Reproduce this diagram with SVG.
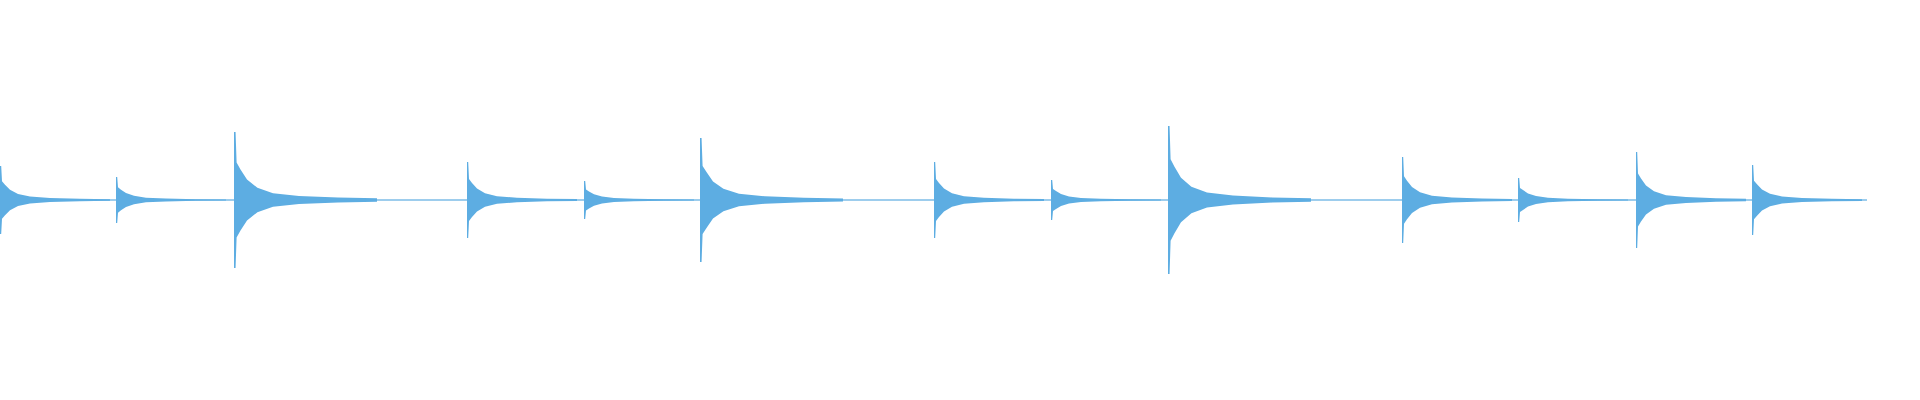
<svg xmlns="http://www.w3.org/2000/svg" width="1920" height="400" viewBox="0 0 1920 400">
<defs>
<style>.w{fill:#5dade2}</style>
<path id="e" d="M0,-1 L1.2,-1 L2,-0.55 L5,-0.45 L10,-0.3 L18,-0.18 L30,-0.1 L50,-0.06 L80,-0.035 L110,-0.025 L110,0.025 L80,0.035 L50,0.06 L30,0.1 L18,0.18 L10,0.3 L5,0.45 L2,0.55 L1.2,1 L0,1 Z"/>
</defs>
<rect width="1920" height="400" fill="#fff"/>
<rect class="w" x="0" y="199.4" width="1867" height="1.2"/>
<g class="w">
<use href="#e" transform="translate(0,200) scale(1,34)"/>
<use href="#e" transform="translate(116,200) scale(1,23)"/>
<use href="#e" transform="translate(234,200) scale(1.3,68)"/>
<use href="#e" transform="translate(467,200) scale(1,38)"/>
<use href="#e" transform="translate(584,200) scale(1,19)"/>
<use href="#e" transform="translate(700,200) scale(1.3,62)"/>
<use href="#e" transform="translate(934,200) scale(1,38)"/>
<use href="#e" transform="translate(1051,200) scale(1,20)"/>
<use href="#e" transform="translate(1168,200) scale(1.3,74)"/>
<use href="#e" transform="translate(1402,200) scale(1,43)"/>
<use href="#e" transform="translate(1518,200) scale(1,22)"/>
<use href="#e" transform="translate(1636,200) scale(1,48)"/>
<use href="#e" transform="translate(1752,200) scale(1,35)"/>
</g>
</svg>
